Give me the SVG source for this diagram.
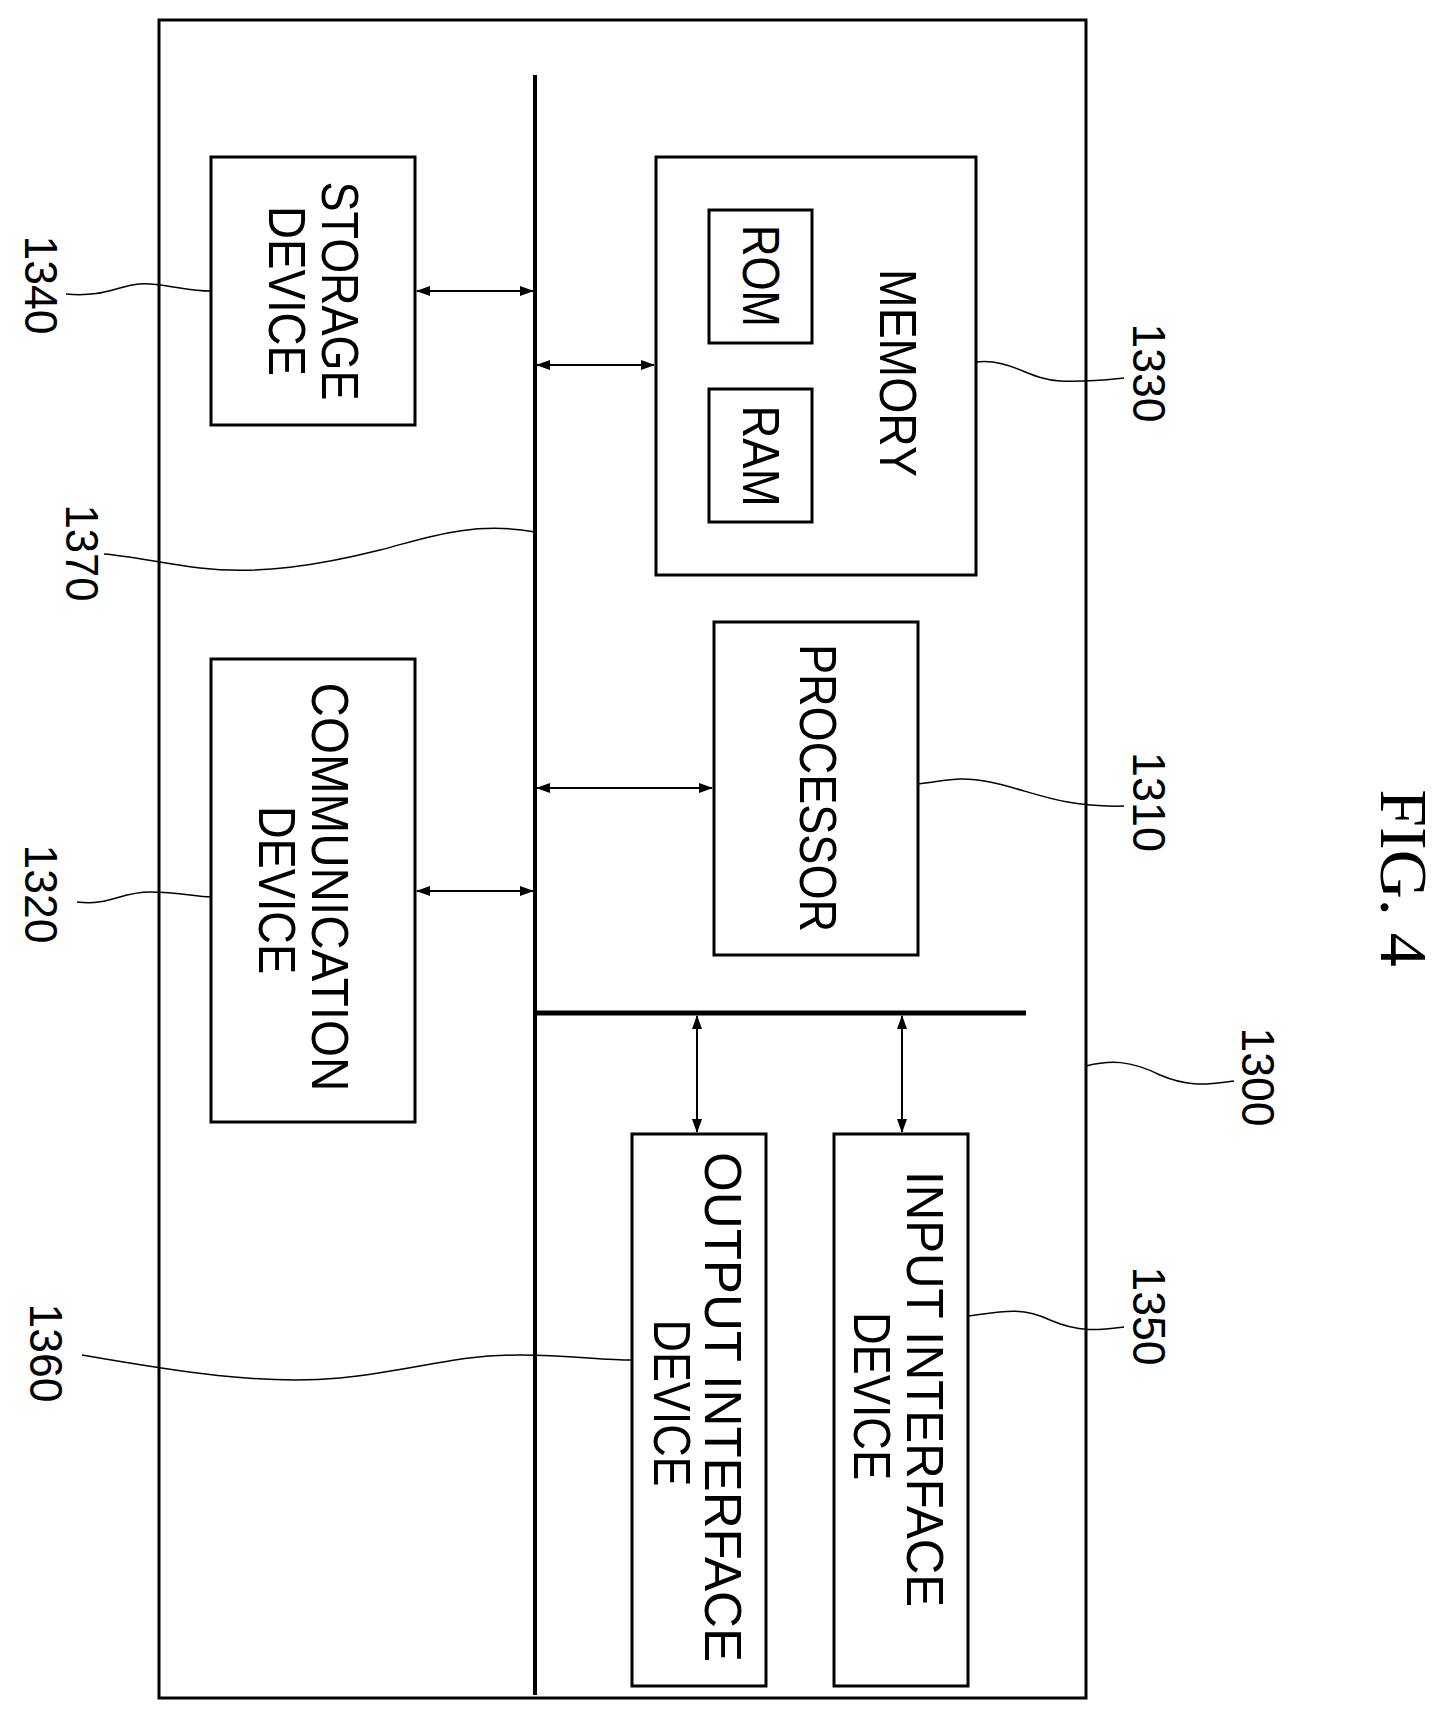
<svg xmlns="http://www.w3.org/2000/svg" width="1448" height="1722" viewBox="0 0 1448 1722">
<style>
.box{fill:none;stroke:#000;stroke-width:3}
.t{font-family:"Liberation Sans",Arial,sans-serif;font-size:52px;text-anchor:middle;dominant-baseline:central}
.n{font-family:"Liberation Sans",Arial,sans-serif;font-size:46px;text-anchor:middle;dominant-baseline:central}
.ld{fill:none;stroke:#000;stroke-width:1.5}
.ar{stroke:#000;stroke-width:2;marker-start:url(#a);marker-end:url(#a)}
</style>
<defs>
<marker id="a" markerWidth="14" markerHeight="10" refX="13" refY="5" orient="auto-start-reverse" markerUnits="userSpaceOnUse">
<path d="M0,0 L14,5 L0,10 Z" fill="#000"/>
</marker>
</defs>
<rect width="1448" height="1722" fill="#fff"/>
<g id="system"><rect class="box" x="159" y="20" width="927" height="1678"/></g>
<g id="bus"><line x1="535" y1="75" x2="535" y2="1695" stroke="#000" stroke-width="4"/><line x1="535" y1="1013" x2="1026" y2="1013" stroke="#000" stroke-width="5"/></g>
<g id="storage"><rect class="box" x="211" y="157" width="204" height="268"/>
<text class="t" transform="translate(340,291) rotate(90)" textLength="219" lengthAdjust="spacingAndGlyphs">STORAGE</text>
<text class="t" transform="translate(287,291) rotate(90)" textLength="170" lengthAdjust="spacingAndGlyphs">DEVICE</text></g>
<g id="memory"><rect class="box" x="656" y="157" width="320" height="418"/>
<text class="t" transform="translate(898,373) rotate(90)" textLength="208" lengthAdjust="spacingAndGlyphs">MEMORY</text>
<rect class="box" x="709" y="210" width="103" height="133"/>
<text class="t" transform="translate(761,276) rotate(90)" textLength="102" lengthAdjust="spacingAndGlyphs">ROM</text>
<rect class="box" x="709" y="389" width="103" height="133"/>
<text class="t" transform="translate(761,456) rotate(90)" textLength="101" lengthAdjust="spacingAndGlyphs">RAM</text></g>
<g id="processor"><rect class="box" x="714" y="622" width="204" height="333"/>
<text class="t" transform="translate(818,788) rotate(90)" textLength="288" lengthAdjust="spacingAndGlyphs">PROCESSOR</text></g>
<g id="communication"><rect class="box" x="211" y="659" width="204" height="463"/>
<text class="t" transform="translate(330,887) rotate(90)" textLength="409" lengthAdjust="spacingAndGlyphs">COMMUNICATION</text>
<text class="t" transform="translate(277,890) rotate(90)" textLength="168" lengthAdjust="spacingAndGlyphs">DEVICE</text></g>
<g id="output"><rect class="box" x="632" y="1134" width="134" height="552"/>
<text class="t" transform="translate(723,1407) rotate(90)" textLength="510" lengthAdjust="spacingAndGlyphs">OUTPUT INTERFACE</text>
<text class="t" transform="translate(672,1403) rotate(90)" textLength="167" lengthAdjust="spacingAndGlyphs">DEVICE</text></g>
<g id="input"><rect class="box" x="834" y="1134" width="134" height="552"/>
<text class="t" transform="translate(925,1389) rotate(90)" textLength="436" lengthAdjust="spacingAndGlyphs">INPUT INTERFACE</text>
<text class="t" transform="translate(872,1396) rotate(90)" textLength="168" lengthAdjust="spacingAndGlyphs">DEVICE</text></g>
<g id="connectors">
<line class="ar" x1="417" y1="291" x2="533" y2="291"/>
<line class="ar" x1="537" y1="365" x2="654" y2="365"/>
<line class="ar" x1="537" y1="788" x2="712" y2="788"/>
<line class="ar" x1="417" y1="891" x2="533" y2="891"/>
<line class="ar" x1="697" y1="1016" x2="697" y2="1132"/>
<line class="ar" x1="902" y1="1016" x2="902" y2="1132"/>
<path class="ld" d="M66,294 C110,298 120,282 150,284 C175,286 190,291 211,291"/>
<path class="ld" d="M976,362 C1010,358 1030,380 1060,381 C1090,382 1105,380 1124,378"/>
<path class="ld" d="M535,532 C470,520 420,540 380,550 C320,565 260,575 200,568 C160,563 130,556 104,554"/>
<path class="ld" d="M918,784 C950,780 960,776 990,782 C1030,790 1060,808 1124,806"/>
<path class="ld" d="M77,902 C110,906 120,892 150,892 C180,892 195,897 211,897"/>
<path class="ld" d="M1086,1066 C1110,1060 1130,1060 1160,1075 C1190,1088 1210,1084 1234,1081"/>
<path class="ld" d="M968,1316 C1000,1312 1020,1306 1050,1320 C1080,1333 1100,1330 1124,1327"/>
<path class="ld" d="M82,1355 C180,1372 260,1385 340,1378 C420,1370 450,1355 520,1355 C570,1355 600,1360 632,1360"/>
</g>
<g id="labels">
<text class="n" transform="translate(41,285) rotate(90)" textLength="99" lengthAdjust="spacingAndGlyphs">1340</text>
<text class="n" transform="translate(1149,373) rotate(90)" textLength="99" lengthAdjust="spacingAndGlyphs">1330</text>
<text class="n" transform="translate(82,553) rotate(90)" textLength="97" lengthAdjust="spacingAndGlyphs">1370</text>
<text class="n" transform="translate(1149,802) rotate(90)" textLength="100" lengthAdjust="spacingAndGlyphs">1310</text>
<text class="n" transform="translate(41,894) rotate(90)" textLength="99" lengthAdjust="spacingAndGlyphs">1320</text>
<text class="n" transform="translate(1258,1077) rotate(90)" textLength="99" lengthAdjust="spacingAndGlyphs">1300</text>
<text class="n" transform="translate(1149,1316) rotate(90)" textLength="99" lengthAdjust="spacingAndGlyphs">1350</text>
<text class="n" transform="translate(46,1353) rotate(90)" textLength="99" lengthAdjust="spacingAndGlyphs">1360</text>
<text transform="translate(1404,878) rotate(90)" font-family="Liberation Serif,serif" font-size="68" text-anchor="middle" dominant-baseline="central">FIG. 4</text>
</g>
</svg>
